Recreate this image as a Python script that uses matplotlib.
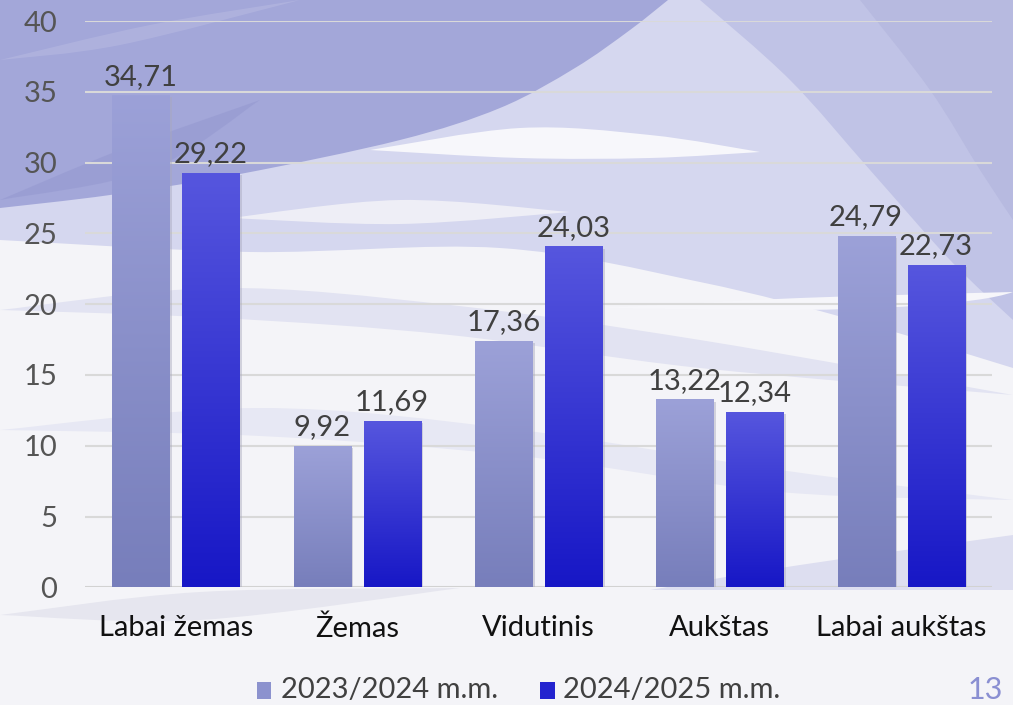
import numpy as np
import matplotlib.pyplot as plt
from matplotlib.patches import Rectangle, PathPatch
from matplotlib.path import Path
from matplotlib.colors import to_rgb

categories = ["Labai žemas", "Žemas", "Vidutinis", "Aukštas", "Labai aukštas"]
series_names = ["2023/2024 m.m.", "2024/2025 m.m."]
vals_2023 = [34.71, 9.92, 17.36, 13.22, 24.79]
vals_2024 = [29.22, 11.69, 24.03, 12.34, 22.73]
yticks = [0, 5, 10, 15, 20, 25, 30, 35, 40]

plt.rcParams['font.family'] = ['Lato', 'DejaVu Sans']
txt_col = "#404040"
fs = 21

fig = plt.figure(figsize=(10.13, 7.05), dpi=100)
fig.patch.set_facecolor("#F4F4F8")

# decorative slide background, in pixel coords (y down)
bg = fig.add_axes([0, 0, 1, 1], zorder=-10)
bg.set_xlim(0, 1013)
bg.set_ylim(705, 0)
bg.axis("off")


def smooth(pts):
    # catmull-rom through pts -> bezier vertices/codes
    p = np.array(pts, float)
    verts = [p[0]]
    codes = [Path.MOVETO]
    for i in range(len(p) - 1):
        p0 = p[i - 1] if i > 0 else p[i]
        p3 = p[i + 2] if i + 2 < len(p) else p[i + 1]
        c1 = p[i] + (p[i + 1] - p0) / 6
        c2 = p[i + 1] - (p3 - p[i]) / 6
        verts += [c1, c2, p[i + 1]]
        codes += [Path.CURVE4] * 3
    return verts, codes


def region(curve, corners, col, alpha=1.0):
    # curve: smooth edge; corners: straight points closing the shape
    v, c = smooth(curve)
    for q in corners:
        v.append(q)
        c.append(Path.LINETO)
    v.append(v[0])
    c.append(Path.CLOSEPOLY)
    bg.add_patch(PathPatch(Path(v, c), facecolor=col, lw=0, alpha=alpha))


def lens(top, bottom, col, alpha=1.0):
    # streak between two smooth edges sharing end points
    v1, c1 = smooth(top)
    v2, c2 = smooth(bottom[::-1])
    v = v1 + v2[1:] + [v1[0]]
    c = c1 + c2[1:] + [Path.CLOSEPOLY]
    bg.add_patch(PathPatch(Path(v, c), facecolor=col, lw=0, alpha=alpha))


# light lavender upper area
region([(0, 240), (250, 252), (500, 248), (700, 282), (860, 322), (1013, 368)],
       [(1013, 0), (0, 0)], "#D5D7EF")
# right darker lavender
region([(700, 0), (790, 80), (870, 170), (950, 260), (1013, 320)],
       [(1013, 0)], "#C0C3E6")
region([(860, 0), (930, 90), (980, 170), (1013, 220)], [(1013, 0)], "#B7BAE0")
# big dark lavender region upper-left
region([(668, 0), (630, 30), (575, 68), (500, 108), (400, 140), (240, 174), (110, 195),
        (0, 208)], [(0, 0)], "#A3A7D9")
lens([(0, 200), (120, 150), (260, 100)], [(0, 200), (150, 170), (260, 100)], "#9599D0", 0.6)
lens([(0, 60), (150, 25), (300, 0)], [(0, 60), (120, 45), (300, 0)], "#B3B6E0", 0.7)
# white streaks
lens([(370, 150), (520, 128), (650, 135), (760, 152)],
     [(370, 150), (520, 158), (650, 158), (760, 152)], "#F7F7FB")
lens([(230, 218), (400, 200), (570, 212)], [(230, 218), (400, 224), (570, 212)], "#EEEEF6")
lens([(600, 308), (800, 298), (1013, 292)], [(600, 308), (800, 310), (1013, 304)], "#F6F6FA")
# soft lavender streaks in the middle
lens([(0, 310), (220, 288), (450, 305), (700, 340), (1013, 395)],
     [(0, 310), (220, 318), (450, 335), (700, 368), (1013, 395)], "#E2E3F2")
lens([(0, 430), (260, 408), (520, 430), (780, 470), (1013, 500)],
     [(0, 430), (260, 436), (520, 456), (780, 492), (1013, 500)], "#E7E8F4")
# bottom bands
region([(650, 590), (800, 565), (1013, 535)], [(1013, 590)], "#DDDEF0")
lens([(0, 615), (200, 592), (460, 588)], [(0, 615), (200, 620), (460, 588)], "#E6E6EF")

ax = fig.add_axes([0.084, 0.167, 0.895, 0.803])
ax.set_facecolor("none")
x = np.arange(len(categories))
w = 0.315
off = 0.193

grad = np.linspace(0, 1, 256).reshape(-1, 1)


def grad_bar(xc, h, c_top, c_bot):
    c_top = np.array(to_rgb(c_top))
    c_bot = np.array(to_rgb(c_bot))
    img = c_top[None, None, :] * (1 - grad[:, :, None]) + c_bot[None, None, :] * grad[:, :, None]
    ax.add_patch(Rectangle((xc - w / 2 + 0.01, 0), w + 0.004, h - 0.1, color="#A8A8BC",
                           alpha=0.45, zorder=2, lw=0))
    ax.imshow(img, extent=(xc - w / 2, xc + w / 2, 0, h), aspect="auto", zorder=3,
              origin="upper")


for i in range(len(categories)):
    grad_bar(x[i] - off, vals_2023[i], "#9CA1D8", "#777EBB")
    grad_bar(x[i] + off, vals_2024[i], "#5656DE", "#1717C6")
    ax.text(x[i] - off, vals_2023[i] + 0.45, f"{vals_2023[i]:.2f}".replace(".", ","),
            ha="center", va="bottom", fontsize=fs, color=txt_col, zorder=5)
    ax.text(x[i] + off, vals_2024[i] + 0.45, f"{vals_2024[i]:.2f}".replace(".", ","),
            ha="center", va="bottom", fontsize=fs, color=txt_col, zorder=5)

ax.set_xlim(-0.5, len(categories) - 0.5)
ax.set_ylim(0, 40)
ax.set_yticks(yticks)
ax.set_yticklabels([str(t) for t in yticks], fontsize=fs, color="#555555")
ax.set_xticks(x)
ax.set_xticklabels(categories, fontsize=fs, color="#111111")
ax.tick_params(axis="y", length=0, pad=20)
ax.tick_params(axis="x", length=0, pad=20)
ax.grid(axis="y", color="#D9D9D9", lw=1.5, zorder=1)
ax.set_axisbelow(True)
for s in ax.spines.values():
    s.set_visible(False)
ax.axhline(0, color="#D0D0D0", lw=1.8, zorder=1)

# legend
fig.patches.append(Rectangle((0.2535, 0.0085), 0.0145, 0.0245, transform=fig.transFigure,
                             color="#8C92CE", lw=0))
fig.text(0.277, 0.0215, series_names[0], fontsize=fs, color=txt_col, va="center")
fig.patches.append(Rectangle((0.533, 0.0085), 0.0145, 0.0245, transform=fig.transFigure,
                             color="#2323CF", lw=0))
fig.text(0.556, 0.0215, series_names[1], fontsize=fs, color=txt_col, va="center")
fig.text(0.9725, 0.021, "13", fontsize=22, color="#8A8FD2", ha="center", va="center")

fig.savefig("out.png", dpi=100, facecolor=fig.get_facecolor())
